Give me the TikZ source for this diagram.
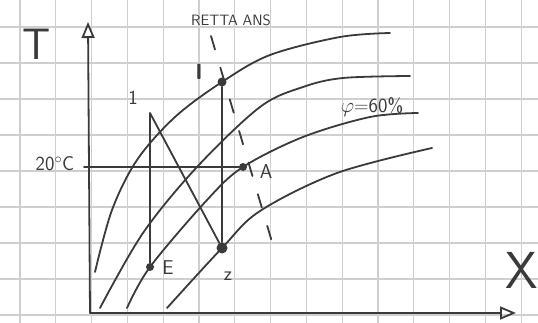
\documentclass[tikz,border=0pt]{standalone}
\usepackage{tikz}
\usetikzlibrary{arrows.meta}
\definecolor{penink}{HTML}{3A3A3A}
\definecolor{gridgray}{HTML}{CFCFCF}
\tikzset{
  ink/.style={draw=penink, line width=1.8pt, line cap=round, line join=round},
  rhcurve/.style={ink, smooth, tension=0.55},
  statept/.style={circle, fill=penink, inner sep=0pt, minimum size=#1},
  lbl/.style={text=penink, font=\sffamily\fontsize{20}{20}\selectfont, inner sep=1pt},
  axisarrow/.style={ink, -{Triangle[open,length=16pt,width=13pt]}},
}

\begin{document}
\begin{tikzpicture}[x=1pt,y=-1pt]
\useasboundingbox (0,0) rectangle (538,323);
\fill[white] (0,0) rectangle (538,323);
% squared paper
\foreach \gx in {0,...,14}
  \draw[gridgray, line width=1.1pt] (20+35.8*\gx,0) -- (20+35.8*\gx,323);
\foreach \gy in {0,...,8}
  \draw[gridgray, line width=1.1pt] (0,27+36*\gy) -- (538,27+36*\gy);

% axes
\coordinate (O) at (90,313);
\coordinate (Ytop) at (88,22);
\coordinate (Xend) at (516,313);
\draw[axisarrow] (O) -- (Ytop);
\draw[axisarrow] (O) -- (Xend);
\node[lbl, font=\sffamily\fontsize{44}{44}\selectfont] (labT) at (37,44) {T};
\node[lbl, font=\sffamily\fontsize{52}{52}\selectfont] (labX) at (522,270) {X};

% curves of constant relative humidity
\draw[rhcurve] plot coordinates {(95,272) (112,210) (137,160) (175,117) (222,82) (270,55) (340,37) (390,33)};
\draw[rhcurve] plot coordinates {(100,308) (143,233) (197,167) (260,107) (303,87) (343,78) (410,76)};
\draw[rhcurve] plot coordinates {(127,308) (150,267) (207,200) (243,167) (303,137) (370,117) (418,113)};
\draw[rhcurve] plot coordinates {(167,308) (222,248) (260,211) (337,173) (432,148)};
\node[lbl] (labPhi) at (372,107) {$\varphi$=60\%};

% states
\node[statept=9pt] (I) at (222,82) {};
\node[statept=8pt] (A) at (243,167) {};
\node[statept=8pt] (E) at (150,267) {};
\node[statept=11pt] (Z) at (222,248) {};
\coordinate (P1) at (150,113);
\coordinate (T20) at (84,167);

% transformations
\draw[ink] (E) -- (P1) -- (Z) -- (I);
\draw[ink] (T20) -- (A);

% retta ambiente
\coordinate (Rtop) at (211,36);
\coordinate (Rbot) at (272,242);
\draw[ink, dash pattern=on 14pt off 19pt] (Rtop) -- (Rbot);
\node[lbl, font=\sffamily\fontsize{15}{15}\selectfont] (labR) at (231,20) {RETTA ANS};

% labels
\node[lbl, font=\sffamily\bfseries\fontsize{22}{22}\selectfont] (labI) at (199,72) {I};
\node[lbl] (lab1) at (133,98) {1};
\node[lbl] (labA) at (266,172) {A};
\node[lbl] (labE) at (168,268) {E};
\node[lbl] (labZ) at (228,276) {z};
\node[lbl] (lab20) at (55,164) {20$^\circ$C};
\end{tikzpicture}
\end{document}
